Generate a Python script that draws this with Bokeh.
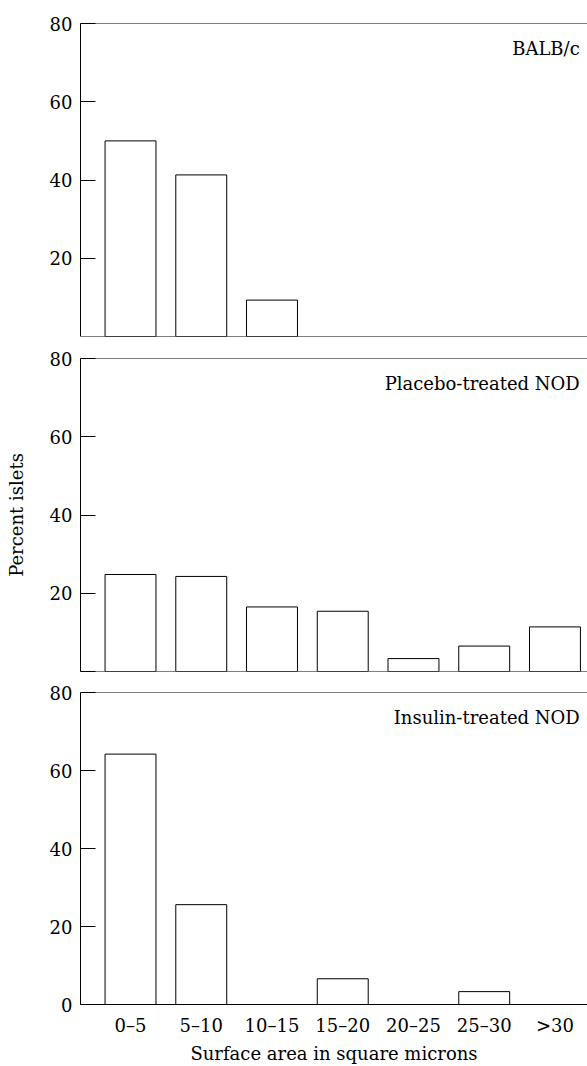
from bokeh.plotting import figure
from bokeh.layouts import column
from bokeh.models import Range1d, FixedTicker, Span, Label
from bokeh.embed import file_html
from bokeh.resources import INLINE

categories = ["0\u20135", "5\u201310", "10\u201315", "15\u201320", "20\u201325", "25\u201330", ">30"]
balbc = [50.0, 41.3, 9.3, 0, 0, 0, 0]
placebo_nod = [24.8, 24.3, 16.5, 15.4, 3.3, 6.5, 11.4]
insulin_nod = [64.2, 25.6, 0, 6.6, 0, 3.3, 0]
panel_titles = ["BALB/c", "Placebo-treated NOD", "Insulin-treated NOD"]
y_ticks = [0, 20, 40, 60, 80]

FONT = "DejaVu Serif"
FS = "18px"


def make_panel(values, title, border_top, border_bottom, show_x, zero_mode, ylabel=None):
    idx = list(range(len(categories)))
    p = figure(width=587, height=border_top + 313 + border_bottom,
               x_range=Range1d(-0.707, 6.46), y_range=Range1d(0, 80),
               output_backend="svg", toolbar_location=None,
               min_border_left=80, min_border_right=0,
               min_border_top=border_top, min_border_bottom=border_bottom)
    p.outline_line_color = None
    p.grid.visible = False
    p.background_fill_color = "white"
    p.border_fill_color = "white"

    xs = [i for i, v in zip(idx, values) if v > 0]
    tops = [v for v in values if v > 0]
    p.vbar(x=xs, top=tops, width=0.72, bottom=0,
           fill_color="white", line_color="black", line_width=1)

    ya = p.yaxis[0]
    ya.ticker = FixedTicker(ticks=y_ticks if zero_mode else y_ticks[1:])
    ya.minor_tick_line_color = None
    ya.major_tick_in = 15
    ya.major_tick_out = 0
    ya.major_tick_line_color = "black"
    ya.axis_line_color = "black"
    ya.major_label_standoff = 8
    ya.major_label_text_font = FONT
    ya.major_label_text_font_size = FS
    ya.major_label_text_color = "black"
    if zero_mode == "blank":
        ya.major_label_overrides = {0: ""}
    if ylabel:
        ya.axis_label = ylabel
        ya.axis_label_text_font = FONT
        ya.axis_label_text_font_size = FS
        ya.axis_label_text_font_style = "normal"
        ya.axis_label_text_color = "black"
        ya.axis_label_standoff = 20

    xa = p.xaxis[0]
    if show_x:
        xa.ticker = FixedTicker(ticks=idx)
        xa.major_label_overrides = {i: c for i, c in zip(idx, categories)}
        xa.major_tick_in = 0
        xa.major_tick_out = 0
        xa.minor_tick_line_color = None
        xa.axis_line_color = "black"
        xa.major_label_standoff = 10
        xa.major_label_text_font = FONT
        xa.major_label_text_font_size = FS
        xa.major_label_text_color = "black"
        xa.axis_label = "Surface area in square microns"
        xa.axis_label_text_font = FONT
        xa.axis_label_text_font_size = FS
        xa.axis_label_text_font_style = "normal"
        xa.axis_label_text_color = "black"
        xa.axis_label_standoff = 4
    else:
        xa.visible = False
        p.add_layout(Span(location=0, dimension="width", line_color="black", line_width=1))

    p.add_layout(Span(location=80, dimension="width", line_color="black", line_width=1))
    p.add_layout(Label(x=6.35, y=73.6, text=title, text_align="right",
                       text_baseline="middle", text_font=FONT, text_font_size=FS,
                       text_color="black"))
    return p


p1 = make_panel(balbc, panel_titles[0], 23, 11, False, False)
p2 = make_panel(placebo_nod, panel_titles[1], 11, 10, False, "blank", ylabel="Percent islets")
p3 = make_panel(insulin_nod, panel_titles[2], 11, 61, True, True)

layout = column(p1, p2, p3)
open("out.html", "w").write(file_html(layout, INLINE))
